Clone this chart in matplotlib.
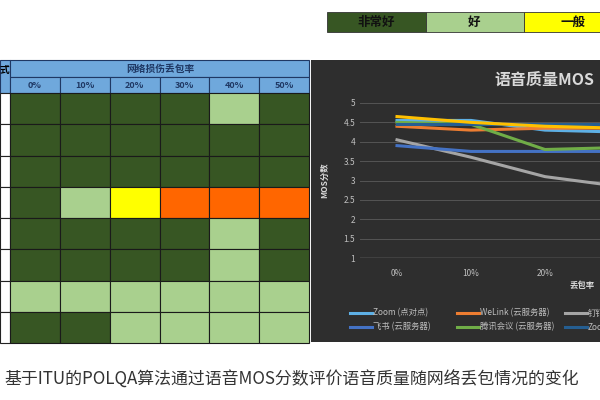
import matplotlib
matplotlib.use("Agg")
import matplotlib.pyplot as plt
from matplotlib.patches import Rectangle
from matplotlib.lines import Line2D

plt.rcParams["font.family"] = ["Noto Sans CJK SC", "DejaVu Sans"]

rating_labels = ["非常好", "好", "一般"]
rating_colors = ["#375623", "#a9d08e", "#ffff00", "#ff6600"]
loss_cols = ["0%", "10%", "20%", "30%", "40%", "50%"]
grid_codes = [
    [0, 0, 0, 0, 1, 0],
    [0, 0, 0, 0, 0, 0],
    [0, 0, 0, 0, 0, 0],
    [0, 1, 2, 3, 3, 3],
    [0, 0, 0, 0, 1, 0],
    [0, 0, 0, 0, 1, 0],
    [1, 1, 1, 1, 1, 1],
    [0, 0, 1, 1, 1, 1],
]
series_names = ["Zoom (点对点)", "WeLink (云服务器)", "钉钉",
                "飞书 (云服务器)", "腾讯会议 (云服务器)", "Zoom", "其他"]
series_colors = ["#5eb0e5", "#ed7d31", "#a5a5a5", "#4472c4", "#70ad47", "#255e91", "#ffc000"]
zoom_p2p = [4.55, 4.55, 4.3, 4.25, 4.2, 4.2]
welink = [4.4, 4.3, 4.35, 4.35, 4.3, 4.3]
dingding = [4.05, 3.6, 3.1, 2.85, 2.7, 2.6]
feishu = [3.9, 3.75, 3.75, 3.75, 3.7, 3.7]
tencent = [4.5, 4.45, 3.8, 3.85, 3.85, 3.85]
zoom_cloud = [4.45, 4.45, 4.45, 4.45, 4.4, 4.4]
other = [4.65, 4.5, 4.4, 4.35, 4.3, 4.3]
series_values = [zoom_p2p, welink, dingding, feishu, tencent, zoom_cloud, other]
caption = "基于ITU的POLQA算法通过语音MOS分数评价语音质量随网络丢包情况的变化"

fig = plt.figure(figsize=(6, 4), dpi=100)
base = fig.add_axes([0, 0, 1, 1])
base.set_xlim(0, 600); base.set_ylim(400, 0); base.axis("off")

for i, (lab, c) in enumerate(zip(rating_labels, rating_colors)):
    x0 = 327 + i * 98.5
    base.add_patch(Rectangle((x0, 12), 98.5, 20, fc=c, ec="#333", lw=0.6))
    base.text(x0 + 49, 22, lab, ha="center", va="center", fontsize=9, fontweight="bold", color="#111")

hb = "#6fa8dc"
base.add_patch(Rectangle((0, 60), 10, 33, fc=hb, ec="#1f3864", lw=0.8))
base.text(4, 70, "式", ha="center", va="center", fontsize=7, fontweight="bold")
base.add_patch(Rectangle((10, 60), 299, 17, fc=hb, ec="#1f3864", lw=0.8))
base.text(160, 68.5, "网络损伤丢包率", ha="center", va="center", fontsize=7, fontweight="bold", color="#1f3864")
cw = 299 / 6
rh = 250 / 8
for j, lab in enumerate(loss_cols):
    base.add_patch(Rectangle((10 + j * cw, 77), cw, 16, fc=hb, ec="#1f3864", lw=0.8))
    base.text(10 + j * cw + cw / 2, 85, lab, ha="center", va="center", fontsize=6.5, fontweight="bold", color="#1f3864")
for i, row in enumerate(grid_codes):
    y0 = 93 + i * rh
    base.add_patch(Rectangle((0, y0), 10, rh, fc="white", ec="#222", lw=0.8))
    for j, code in enumerate(row):
        base.add_patch(Rectangle((10 + j * cw, y0), cw, rh, fc=rating_colors[code], ec="#1a1a1a", lw=0.8))

base.add_patch(Rectangle((311, 60), 300, 282, fc="#2e2e2e", ec="none"))
base.text(494, 80, "语音质量MOS", ha="left", va="center", fontsize=11.5, fontweight="bold", color="#d9d9d9")
base.text(325, 180, "MOS分数", rotation=90, ha="center", va="center", fontsize=6, fontweight="bold", color="#d9d9d9")
base.text(582, 285, "丢包率", ha="center", va="center", fontsize=6, fontweight="bold", color="#d9d9d9")

leg_pos = [(350, 313), (457, 313), (565, 313), (350, 327), (457, 327), (565, 327)]
for (lx, ly), name, c in zip(leg_pos, series_names[:6], series_colors[:6]):
    base.add_line(Line2D([lx, lx + 22], [ly, ly], color=c, lw=2.2))
    base.text(lx + 23, ly, name, ha="left", va="center", fontsize=6, color="#bfbfbf")

base.text(4, 380, caption, ha="left", va="center", fontsize=12.2, color="#333")

ax = fig.add_axes([360 / 600, 1 - 258 / 400, 444 / 600, 155 / 400])
ax.set_facecolor("none")
xs = list(range(len(loss_cols)))
for vals, c in zip(series_values, series_colors):
    ax.plot(xs, vals, color=c, lw=2.2)
ax.set_xlim(-0.5, 5.5); ax.set_ylim(1, 5)
ax.set_yticks([1, 1.5, 2, 2.5, 3, 3.5, 4, 4.5, 5])
ax.set_yticklabels(["1", "1.5", "2", "2.5", "3", "3.5", "4", "4.5", "5"])
ax.set_xticks(xs); ax.set_xticklabels(loss_cols)
ax.tick_params(colors="#bfbfbf", labelsize=6, length=0)
ax.tick_params(axis="x", pad=8)
ax.grid(axis="y", color="#555555", lw=0.7)
for s in ax.spines.values():
    s.set_visible(False)
ax.axhline(1, color="#8c8c8c", lw=1)

fig.savefig("out.png", dpi=100)
